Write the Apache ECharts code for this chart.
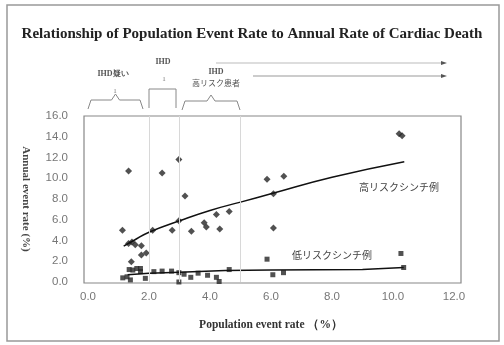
<!DOCTYPE html>
<html><head><meta charset="utf-8">
<script src="https://cdn.jsdelivr.net/npm/echarts@6/dist/echarts.min.js"></script>
<style>html,body{margin:0;padding:0;background:#fff}#c{width:504px;height:345px}</style>
</head><body><div id="c"></div>
<script>
const title = 'Relationship of Population Event Rate to Annual Rate of Cardiac Death';
const xName = 'Population event rate （%）';
const yName = 'Annual event rate (%)';
const highName = '高リスクシンチ例';
const lowName = '低リスクシンチ例';
const xTicks = [0, 2, 4, 6, 8, 10, 12];
const yTicks = [0, 2, 4, 6, 8, 10, 12, 14, 16];
const refLines = [2, 3, 5];

const highPoints = [
  [1.33,10.7],[2.43,10.5],[2.98,11.8],[3.18,8.3],[1.13,5.0],[2.12,5.0],[2.76,5.0],
  [2.98,5.9],[3.39,4.9],[3.81,5.7],[3.88,5.3],[4.21,6.5],[4.32,5.1],[4.63,6.8],
  [1.33,3.7],[1.44,3.85],[1.55,3.6],[1.75,3.5],[1.75,2.6],[1.91,2.8],[1.42,1.95],
  [5.87,9.9],[6.42,10.2],[6.08,8.5],[6.08,5.2],[10.2,14.3],[10.3,14.1]
];
const lowPoints = [
  [1.14,0.4],[1.28,0.5],[1.35,1.2],[1.47,1.15],[1.6,1.3],[1.72,1.3],[1.72,1.0],
  [1.39,0.2],[1.88,0.35],[2.16,1.0],[2.43,1.05],[2.74,1.05],[2.98,0.9],[2.98,0.0],
  [3.15,0.75],[3.37,0.45],[3.61,0.85],[3.92,0.65],[4.21,0.45],[4.3,0.05],[4.63,1.2],
  [5.87,2.2],[6.06,0.7],[6.41,0.9],[10.26,2.75],[10.35,1.4]
];
const highTrend = [[1.17,3.46],[1.5,4.0],[2.0,4.8],[3.0,5.9],[4.0,6.9],[5.0,7.7],[6.0,8.5],[8.0,10.1],[10.37,11.6]];
const lowTrend = [[1.3,0.7],[2.0,0.85],[3.0,0.95],[4.5,1.1],[6.0,1.15],[9.0,1.2],[10.35,1.4]];

const ink = '#262626';
const chart = echarts.init(document.getElementById('c'));
const serif = '"Liberation Serif","DejaVu Serif",serif';
const cjk = '"Noto Sans CJK JP","Noto Sans",sans-serif';

function bracketCurly(x1, x2, yTop, yEnd, peakY) {
  const mid = (x1 + x2) / 2;
  return {
    type: 'polyline', silent: true,
    shape: { points: [[x1, yEnd], [x1 + 3, yTop], [mid - 4, yTop], [mid, peakY], [mid + 4, yTop], [x2 - 3, yTop], [x2, yEnd]] },
    style: { stroke: '#888', lineWidth: 1, fill: null }
  };
}

chart.setOption({
  animation: false,
  backgroundColor: '#fff',
  title: {
    text: title, left: 'center', top: 22,
    textStyle: { fontFamily: serif, fontWeight: 'bold', fontSize: 15, color: '#222' }
  },
  grid: { left: 88, right: 50, top: 116, bottom: 63 },
  xAxis: {
    type: 'value', min: 0, max: 12, interval: 2,
    name: xName, nameLocation: 'middle', nameGap: 37,
    nameTextStyle: { fontFamily: serif, fontWeight: 'bold', fontSize: 11.5, color: '#333' },
    axisLine: { show: false }, axisTick: { show: false }, splitLine: { show: false },
    axisLabel: { formatter: v => v.toFixed(1), color: '#777', fontSize: 11.5, fontFamily: 'Liberation Sans, sans-serif', margin: 9 }
  },
  yAxis: {
    type: 'value', min: 0, max: 16, interval: 2,
    name: yName, nameLocation: 'middle', nameGap: 57, nameRotate: -90,
    nameTextStyle: { fontFamily: serif, fontWeight: 'bold', fontSize: 11, color: '#444' },
    axisLine: { show: false }, axisTick: { show: false }, splitLine: { show: false },
    axisLabel: { formatter: v => v.toFixed(1), color: '#777', fontSize: 11.5, fontFamily: 'Liberation Sans, sans-serif', margin: 20 }
  },
  series: [
    {
      type: 'scatter', data: highPoints, symbol: 'diamond', symbolSize: 7,
      itemStyle: { color: ink }, z: 3,
      markLine: {
        silent: true, symbol: 'none', label: { show: false },
        lineStyle: { color: '#d8d8d8', type: 'solid', width: 1 },
        data: refLines.map(v => ({ xAxis: v }))
      }
    },
    { type: 'scatter', data: lowPoints, symbol: 'rect', symbolSize: 5, itemStyle: { color: ink }, z: 3 },
    { type: 'line', data: highTrend, smooth: true, symbol: 'none', lineStyle: { color: '#111', width: 1.5 }, z: 4 },
    { type: 'line', data: lowTrend, symbol: 'none', lineStyle: { color: '#111', width: 1.5 }, z: 4 }
  ],
  graphic: [
    { type: 'rect', silent: true, shape: { x: 7, y: 5, width: 492, height: 336 }, style: { stroke: '#999', lineWidth: 1.5, fill: null } },
    { type: 'rect', silent: true, shape: { x: 84, y: 116, width: 377, height: 167 }, style: { stroke: '#888', lineWidth: 1.2, fill: null } },
    { type: 'text', x: 359, y: 182, silent: true, style: { text: highName, font: '10px ' + cjk, fill: '#444' } },
    { type: 'text', x: 292, y: 250, silent: true, style: { text: lowName, font: '10px ' + cjk, fill: '#444' } },
    { type: 'text', x: 113, y: 70, silent: true, style: { text: 'IHD疑い', align: 'center', font: 'bold 8px ' + serif, fill: '#555' } },
    { type: 'text', x: 115, y: 88, silent: true, style: { text: '1', align: 'center', font: '7px ' + serif, fill: '#777' } },
    bracketCurly(88, 143, 100, 109, 94),
    { type: 'text', x: 163, y: 58, silent: true, style: { text: 'IHD', align: 'center', font: 'bold 8px ' + serif, fill: '#555' } },
    { type: 'text', x: 164, y: 76, silent: true, style: { text: '1', align: 'center', font: '7px ' + serif, fill: '#777' } },
    { type: 'polyline', silent: true, shape: { points: [[149, 108], [149, 89], [176, 89], [176, 108]] }, style: { stroke: '#888', lineWidth: 1, fill: null } },
    { type: 'text', x: 216, y: 68, silent: true, style: { text: 'IHD', align: 'center', font: 'bold 8px ' + serif, fill: '#555' } },
    { type: 'text', x: 216, y: 79, silent: true, style: { text: '高リスク患者', align: 'center', font: '8px ' + cjk, fill: '#555' } },
    bracketCurly(182, 240, 101, 110, 95),
    { type: 'line', silent: true, shape: { x1: 216, y1: 63, x2: 443, y2: 63 }, style: { stroke: '#bbb', lineWidth: 1 } },
    { type: 'polygon', silent: true, shape: { points: [[441, 61], [447, 63], [441, 65]] }, style: { fill: '#555' } },
    { type: 'line', silent: true, shape: { x1: 253, y1: 76, x2: 443, y2: 76 }, style: { stroke: '#999', lineWidth: 1 } },
    { type: 'polygon', silent: true, shape: { points: [[441, 74], [447, 76], [441, 78]] }, style: { fill: '#555' } }
  ]
});
</script></body></html>
